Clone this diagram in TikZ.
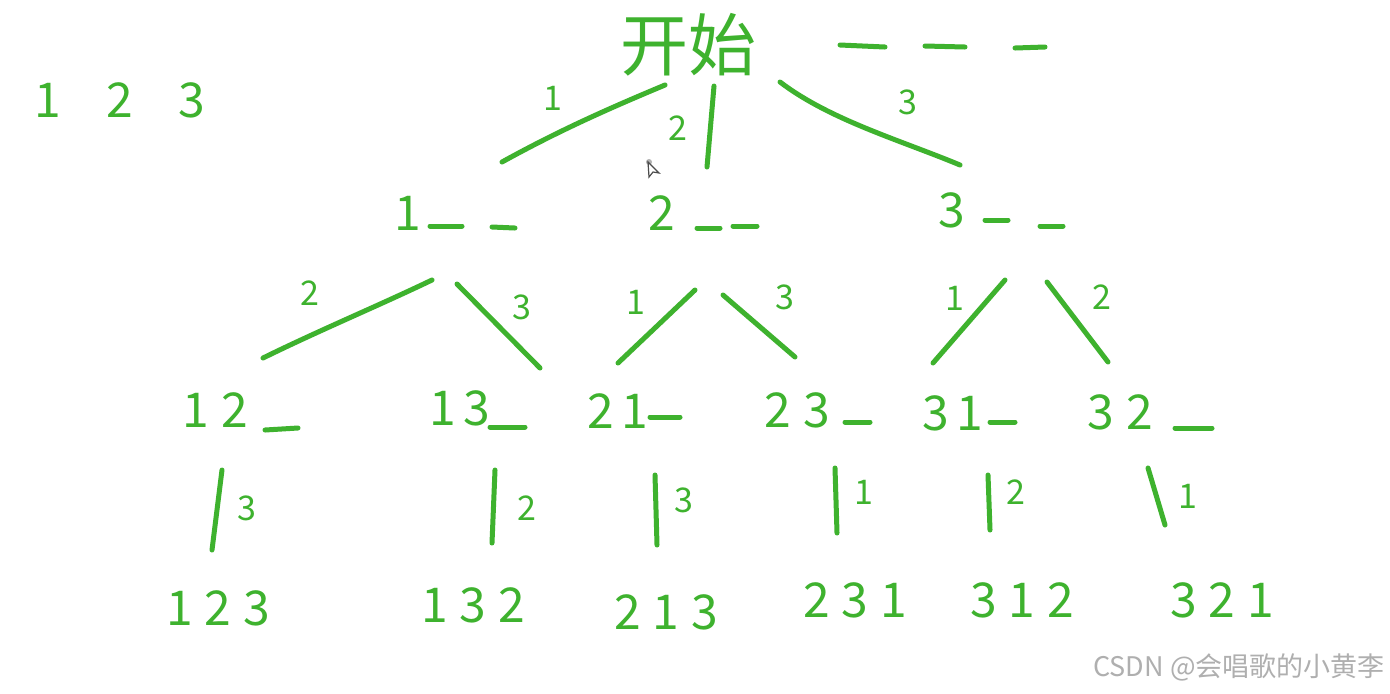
\documentclass[tikz,border=0pt]{standalone}
\usepackage{fontspec}
\setmainfont{Noto Sans CJK SC}
\definecolor{hand}{RGB}{62,178,46}
\definecolor{wm}{RGB}{175,175,175}
\tikzset{
  stroke/.style={draw=hand, line width=2.5pt, line cap=round},
  big/.style={text=hand, font=\fontsize{24}{24}\selectfont, inner sep=0pt},
  lab/.style={text=hand, font=\fontsize{17}{17}\selectfont, inner sep=0pt},
  title/.style={text=hand, font=\fontsize{34}{34}\selectfont, inner sep=0pt},
}
\newcommand{\gp}{\hspace{0.25em}}
\begin{document}
\begin{tikzpicture}[x=0.5pt,y=-0.5pt]
\useasboundingbox (0,0) rectangle (1390,693);
\fill[white] (0,0) rectangle (1390,693);

% root
\node[title] (root) at (688,45) {开始};
\draw[stroke] (840,45) -- (885,47);
\draw[stroke] (925,46) -- (965,47);
\draw[stroke] (1015,48) -- (1045,47);

% top-left
\node[big] (set) at (120,100) {1\hspace{0.95em}2\hspace{0.95em}3};

% level 1
\node[big] (n1) at (408,213) {1};
\draw[stroke] (430,226) -- (462,226);
\draw[stroke] (492,227) -- (515,228);
\node[big] (n2) at (662,213) {2};
\draw[stroke] (697,228) -- (720,228);
\draw[stroke] (733,226) -- (757,226);
\node[big] (n3) at (952,210) {3};
\draw[stroke] (985,220) -- (1008,220);
\draw[stroke] (1040,226) -- (1063,226);

% level 2
\node[big] (n12) at (215,410) {1\gp2};
\draw[stroke] (265,430) -- (298,428);
\node[big] (n13) at (460,408) {1\,3};
\draw[stroke] (490,427) -- (525,427);
\node[big] (n21) at (618,411) {2\,1};
\draw[stroke] (650,417) -- (680,417);
\node[big] (n23) at (797,410) {2\gp3};
\draw[stroke] (845,422) -- (870,422);
\node[big] (n31) at (953,413) {3\,1};
\draw[stroke] (990,422) -- (1015,422);
\node[big] (n32) at (1120,412) {3\gp2};
\draw[stroke] (1175,428) -- (1212,428);

% leaves
\node[big] (l123) at (218,608) {1\gp2\gp3};
\node[big] (l132) at (473,605) {1\gp3\gp2};
\node[big] (l213) at (666,612) {2\gp1\gp3};
\node[big] (l231) at (855,600) {2\gp3\gp1};
\node[big] (l312) at (1022,600) {3\gp1\gp2};
\node[big] (l321) at (1222,600) {3\gp2\gp1};

% edge end points
\coordinate (r1a) at (665,85);  \coordinate (r1b) at (502,162);
\coordinate (r2a) at (714,86);  \coordinate (r2b) at (707,167);
\coordinate (r3a) at (780,82);  \coordinate (r3b) at (960,165);

\coordinate (a1) at (432,280);  \coordinate (b1) at (263,358);
\coordinate (a2) at (457,284);  \coordinate (b2) at (540,368);
\coordinate (a3) at (695,290);  \coordinate (b3) at (618,363);
\coordinate (a4) at (723,295);  \coordinate (b4) at (795,357);
\coordinate (a5) at (1005,280); \coordinate (b5) at (933,363);
\coordinate (a6) at (1047,282); \coordinate (b6) at (1108,362);

\coordinate (c1) at (222,470);  \coordinate (d1) at (212,550);
\coordinate (c2) at (495,470);  \coordinate (d2) at (492,543);
\coordinate (c3) at (655,475);  \coordinate (d3) at (657,545);
\coordinate (c4) at (835,468);  \coordinate (d4) at (837,533);
\coordinate (c5) at (988,475);  \coordinate (d5) at (990,530);
\coordinate (c6) at (1148,468); \coordinate (d6) at (1165,525);

% root edges
\draw[stroke] (r1a) .. controls (610,108) and (560,130) .. (r1b);
\node[lab] (e1) at (553,98) {1};
\draw[stroke] (r2a) -- (r2b);
\node[lab] (e2) at (678,128) {2};
\draw[stroke] (r3a) .. controls (830,120) and (900,140) .. (r3b);
\node[lab] (e3) at (908,102) {3};

% level 2 edges
\draw[stroke] (a1) .. controls (380,305) and (320,330) .. (b1);
\node[lab] (f1) at (310,293) {2};
\draw[stroke] (a2) -- (b2);
\node[lab] (f2) at (522,307) {3};
\draw[stroke] (a3) -- (b3);
\node[lab] (f3) at (636,302) {1};
\draw[stroke] (a4) -- (b4);
\node[lab] (f4) at (785,297) {3};
\draw[stroke] (a5) -- (b5);
\node[lab] (f5) at (955,298) {1};
\draw[stroke] (a6) -- (b6);
\node[lab] (f6) at (1102,297) {2};

% level 3 edges
\draw[stroke] (c1) -- (d1);
\node[lab] (g1) at (247,508) {3};
\draw[stroke] (c2) -- (d2);
\node[lab] (g2) at (527,508) {2};
\draw[stroke] (c3) -- (d3);
\node[lab] (g3) at (684,500) {3};
\draw[stroke] (c4) -- (d4);
\node[lab] (g4) at (864,492) {1};
\draw[stroke] (c5) -- (d5);
\node[lab] (g5) at (1016,492) {2};
\draw[stroke] (c6) -- (d6);
\node[lab] (g6) at (1188,496) {1};

% cursor
\fill[gray!60] (649,162) circle (3);
\draw[black!70, line width=0.6pt, fill=white] (648,162) -- (649,177) -- (653,172) -- (659,173) -- cycle;

% watermark
\node[text=wm, font=\fontsize{13.5}{13.5}\selectfont, anchor=east, inner sep=0pt] (wmk) at (1385,667) {CSDN @会唱歌的小黄李};
\end{tikzpicture}
\end{document}
